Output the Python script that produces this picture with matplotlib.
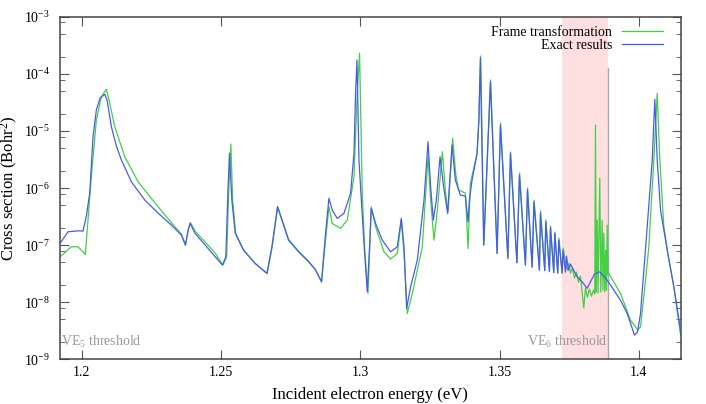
import numpy as np
import matplotlib
matplotlib.use('Agg')
import matplotlib.pyplot as plt
from matplotlib.lines import Line2D
from matplotlib.ticker import FixedLocator, NullFormatter

plt.rcParams['font.family'] = ['Liberation Serif', 'DejaVu Serif']
plt.rcParams['mathtext.fontset'] = 'custom'
plt.rcParams['mathtext.rm'] = 'Liberation Serif'
plt.rcParams['mathtext.it'] = 'Liberation Serif:italic'
plt.rcParams['mathtext.bf'] = 'Liberation Serif:bold'

# Exact results (blue)
energy_exact = [
    1.19220, 1.19508, 1.19867, 1.20047, 1.20172, 1.20287, 1.20406, 1.20525, 1.20658, 1.20826,
    1.20909, 1.21064, 1.21233, 1.21423, 1.21782, 1.22264, 1.22742, 1.23220, 1.23579, 1.23723,
    1.23820, 1.23892, 1.24071, 1.24431, 1.24790, 1.25052, 1.25174, 1.25246, 1.25304, 1.25390,
    1.25509, 1.25807, 1.26227, 1.26648, 1.26827, 1.27029, 1.27187, 1.27424, 1.27783, 1.28142,
    1.28383, 1.28610, 1.28753, 1.28875, 1.28994, 1.29174, 1.29414, 1.29652, 1.29774, 1.29831,
    1.29882, 1.29953, 1.30133, 1.30252, 1.30334, 1.30395, 1.30550, 1.30791, 1.31089, 1.31330,
    1.31473, 1.31570, 1.31664, 1.31808, 1.32048, 1.32289, 1.32433, 1.32526, 1.32623, 1.32731,
    1.32864, 1.32993, 1.33137, 1.33295, 1.33414, 1.33594, 1.33773, 1.33870, 1.33917, 1.34014,
    1.34194, 1.34258, 1.34312, 1.34431, 1.34672, 1.34912, 1.35031, 1.35300, 1.35390, 1.35624,
    1.35714, 1.35929, 1.36001, 1.36170, 1.36234, 1.36432, 1.36468, 1.36623, 1.36659, 1.36791,
    1.36827, 1.36946, 1.36982, 1.37090, 1.37126, 1.37248, 1.37277, 1.37367, 1.37403, 1.37475,
    1.37546, 1.37787, 1.37977, 1.38146, 1.38265, 1.38409, 1.38599, 1.38865, 1.39102, 1.39343,
    1.39583, 1.39846, 1.39954, 1.40062, 1.40302, 1.40482, 1.40575, 1.40661, 1.40780, 1.41021,
    1.41258, 1.41499,
]
sigma_exact = [
    1.07e-7, 1.71e-7, 1.78e-7, 1.76e-7, 3.36e-7, 8.17e-7, 7.94e-6, 2.34e-5, 3.79e-5, 4.40e-5,
    3.50e-5, 1.19e-5, 5.68e-6, 3.10e-6, 1.29e-6, 6.16e-7, 3.64e-7, 2.24e-7, 1.50e-7, 1.00e-7,
    1.83e-7, 2.40e-7, 1.60e-7, 1.00e-7, 6.23e-8, 4.46e-8, 6.23e-8, 8.17e-7, 4.06e-6, 6.16e-7,
    1.62e-7, 8.17e-8, 4.77e-8, 3.19e-8, 9.34e-8, 4.70e-7, 2.75e-7, 1.22e-7, 7.63e-8, 5.09e-8,
    3.75e-8, 2.27e-8, 1.60e-7, 6.60e-7, 4.11e-7, 2.94e-7, 3.60e-7, 8.07e-7, 4.06e-6, 4.58e-5,
    1.76e-4, 3.10e-6, 1.07e-7, 1.52e-8, 9.34e-8, 4.40e-7, 2.40e-7, 1.22e-7, 7.63e-8, 9.34e-8,
    2.94e-7, 9.34e-8, 7.75e-9, 1.86e-8, 5.46e-8, 6.16e-7, 6.49e-6, 1.05e-6, 2.75e-7, 6.16e-7,
    3.54e-6, 1.05e-6, 3.60e-7, 5.68e-6, 1.38e-6, 7.54e-7, 7.24e-7, 2.53e-7, 6.16e-7, 1.38e-6,
    4.06e-6, 1.56e-5, 1.91e-4, 1.00e-7, 7.33e-5, 7.15e-8, 1.27e-5, 5.84e-8, 4.06e-6, 4.89e-8,
    1.69e-6, 4.46e-8, 9.22e-7, 4.11e-8, 5.68e-7, 3.64e-8, 3.64e-7, 3.57e-8, 2.56e-7, 3.43e-8,
    2.03e-7, 3.29e-8, 1.60e-7, 3.23e-8, 1.22e-7, 3.23e-8, 8.17e-8, 3.36e-8, 6.41e-8, 3.64e-8,
    4.64e-8, 2.78e-8, 2.24e-8, 1.74e-8, 2.27e-8, 3.10e-8, 3.40e-8, 2.43e-8, 1.62e-8, 1.08e-8,
    6.33e-9, 2.64e-9, 2.98e-9, 6.33e-9, 2.10e-7, 3.10e-6, 3.60e-5, 3.10e-6, 4.11e-7, 8.17e-8,
    1.86e-8, 3.23e-9,
]

# Frame transformation (green)
energy_frame = [
    1.19220, 1.19626, 1.19867, 1.20129, 1.20226, 1.20345, 1.20525, 1.20704, 1.20884, 1.20981,
    1.21186, 1.21545, 1.22023, 1.22742, 1.23342, 1.23579, 1.23723, 1.23820, 1.23902, 1.24071,
    1.24431, 1.24790, 1.25070, 1.25203, 1.25275, 1.25354, 1.25419, 1.25527, 1.25807, 1.26227,
    1.26658, 1.26838, 1.27036, 1.27197, 1.27424, 1.27783, 1.28142, 1.28383, 1.28610, 1.28753,
    1.28875, 1.28994, 1.29292, 1.29533, 1.29774, 1.29892, 1.29975, 1.30072, 1.30162, 1.30277,
    1.30395, 1.30550, 1.30852, 1.31089, 1.31330, 1.31473, 1.31570, 1.31689, 1.31869, 1.32228,
    1.32433, 1.32526, 1.32648, 1.32767, 1.32947, 1.33054, 1.33151, 1.33317, 1.33432, 1.33532,
    1.33773, 1.33870, 1.33953, 1.34194, 1.34258, 1.34323, 1.34438, 1.34679, 1.34912, 1.35038,
    1.35300, 1.35397, 1.35624, 1.35721, 1.35929, 1.36008, 1.36170, 1.36242, 1.36432, 1.36475,
    1.36623, 1.36666, 1.36791, 1.36834, 1.36946, 1.36989, 1.37090, 1.37133, 1.37248, 1.37284,
    1.37367, 1.37439, 1.37492, 1.37546, 1.37618, 1.37690, 1.37762, 1.37834, 1.37906, 1.37967,
    1.38024, 1.38085, 1.38157, 1.38229, 1.38301, 1.38373, 1.38419, 1.38444, 1.38473, 1.38505,
    1.38537, 1.38599, 1.38635, 1.38685, 1.38714, 1.38743, 1.38779, 1.38811, 1.38840, 1.38865,
    1.38894, 1.38922, 1.39127, 1.39343, 1.39702, 1.39964, 1.40062, 1.40205, 1.40360, 1.40539,
    1.40661, 1.40755, 1.40899, 1.41068, 1.41258, 1.41499,
]
sigma_frame = [
    6.23e-8, 9.34e-8, 9.34e-8, 6.87e-8, 2.75e-7, 1.58e-6, 1.56e-5, 4.00e-5, 5.39e-5, 3.50e-5,
    1.19e-5, 3.54e-6, 1.29e-6, 4.70e-7, 2.10e-7, 1.56e-7, 1.00e-7, 1.83e-7, 2.48e-7, 1.76e-7,
    1.13e-7, 7.24e-8, 4.46e-8, 6.23e-8, 8.17e-7, 5.91e-6, 6.16e-7, 1.62e-7, 8.17e-8, 4.77e-8,
    3.16e-8, 9.34e-8, 4.70e-7, 2.75e-7, 1.27e-7, 7.85e-8, 5.24e-8, 3.75e-8, 2.27e-8, 1.22e-7,
    4.70e-7, 2.40e-7, 1.96e-7, 2.75e-7, 1.58e-6, 4.58e-5, 2.31e-4, 8.07e-7, 8.17e-8, 1.42e-8,
    4.70e-7, 2.10e-7, 7.63e-8, 5.68e-8, 7.15e-8, 2.75e-7, 7.24e-8, 6.33e-9, 1.42e-8, 9.34e-8,
    3.54e-6, 6.16e-7, 1.22e-7, 4.11e-7, 4.33e-6, 9.22e-7, 3.79e-7, 7.44e-6, 1.69e-6, 9.22e-7,
    8.17e-7, 8.75e-8, 1.21e-6, 4.06e-6, 1.56e-5, 2.07e-4, 1.00e-7, 7.85e-5, 7.24e-8, 1.38e-5,
    5.91e-8, 4.28e-6, 4.93e-8, 1.83e-6, 4.46e-8, 1.00e-6, 4.11e-8, 6.16e-7, 3.64e-8, 3.95e-7,
    3.57e-8, 2.75e-7, 3.43e-8, 2.15e-7, 3.29e-8, 1.69e-7, 3.23e-8, 1.33e-7, 3.23e-8, 8.86e-8,
    5.03e-8, 3.64e-8, 4.83e-8, 3.23e-8, 3.95e-8, 2.64e-8, 3.36e-8, 2.24e-8, 2.86e-8, 1.44e-8,
    7.85e-9, 1.76e-8, 1.22e-8, 1.69e-8, 1.27e-8, 1.62e-8, 1.38e-8, 1.27e-5, 1.50e-8, 2.75e-7,
    1.44e-8, 1.50e-6, 1.50e-8, 2.75e-7, 1.62e-8, 1.62e-7, 1.50e-8, 8.17e-8, 1.62e-8, 2.24e-7,
    2.98e-8, 3.19e-8, 2.15e-8, 1.42e-8, 4.83e-9, 3.23e-9, 3.69e-9, 1.62e-8, 9.34e-8, 3.10e-6,
    4.58e-5, 3.10e-6, 2.10e-7, 5.91e-8, 1.86e-8, 2.64e-9,
]

x_ticks = [1.2, 1.25, 1.3, 1.35, 1.4]
x_tick_labels = ['1.2', '1.25', '1.3', '1.35', '1.4']
y_decades = [-9, -8, -7, -6, -5, -4, -3]

ve5_threshold = 1.1922
ve6_threshold = 1.3888
window = (1.3725, 1.3888)
ve6_line_top = 1.26e-4

fig, ax = plt.subplots(figsize=(7.06, 4.04), dpi=100)
fig.subplots_adjust(left=0.085, right=0.964, bottom=0.111, top=0.958)

ax.axvspan(window[0], window[1], color='#ffdfdf', lw=0, zorder=0)
ax.plot([ve6_threshold, ve6_threshold], [1e-9, ve6_line_top], color='#aaaaaa', lw=1.0, zorder=1)

green = '#44d044'
blue = '#4a5af0'
ax.plot(energy_frame, sigma_frame, color=green, lw=0.9, zorder=2)
ax.plot(energy_exact, sigma_exact, color=blue, lw=0.9, zorder=3)

ax.set_yscale('log')
ax.set_xlim(1.1922, 1.4150)
ax.set_ylim(1e-9, 1e-3)
ax.set_xticks(x_ticks)
ax.set_xticklabels(x_tick_labels)

# only the decades inside the axis, so no hidden labels fall outside
ax.yaxis.set_major_locator(FixedLocator([10.0 ** d for d in y_decades]))
ax.set_yticklabels(['$10^{%d}$' % d for d in y_decades])
minor = [m * 10.0 ** d for d in y_decades[:-1] for m in (2, 5, 8)]
ax.yaxis.set_minor_locator(FixedLocator(minor))
ax.yaxis.set_minor_formatter(NullFormatter())

ax.tick_params(which='both', direction='in', top=True, right=True, color='#555555',
               labelsize=10)
ax.tick_params(axis='x', which='major', length=6.5, pad=5)
ax.tick_params(axis='y', which='major', length=6.5, pad=7)
ax.tick_params(axis='y', which='minor', length=3.3)
for s in ax.spines.values():
    s.set_color('#444444')
    s.set_linewidth(1.1)

ax.set_xlabel('Incident electron energy (eV)', fontsize=12, labelpad=6)
ax.set_ylabel('Cross section (Bohr$^2$)', fontsize=12, labelpad=3)

ax.text(ve5_threshold + 0.0002, 1.71e-9, 'VE$_5$ threshold', color='#999999',
        fontsize=10, ha='left', va='baseline')
ax.text(ve6_threshold, 1.71e-9, 'VE$_6$ threshold', color='#999999',
        fontsize=10, ha='right', va='baseline')

legend_elements = [
    Line2D([0], [0], color=green, lw=0.9, label='Frame transformation'),
    Line2D([0], [0], color=blue, lw=0.9, label='Exact results'),
]
ax.legend(handles=legend_elements, loc='upper right', bbox_to_anchor=(0.972, 0.975),
          markerfirst=False, frameon=False, fontsize=10, handlelength=3.0,
          handletextpad=0.68, labelspacing=0.05, borderpad=0, borderaxespad=0)

fig.savefig('out.png', dpi=100)
